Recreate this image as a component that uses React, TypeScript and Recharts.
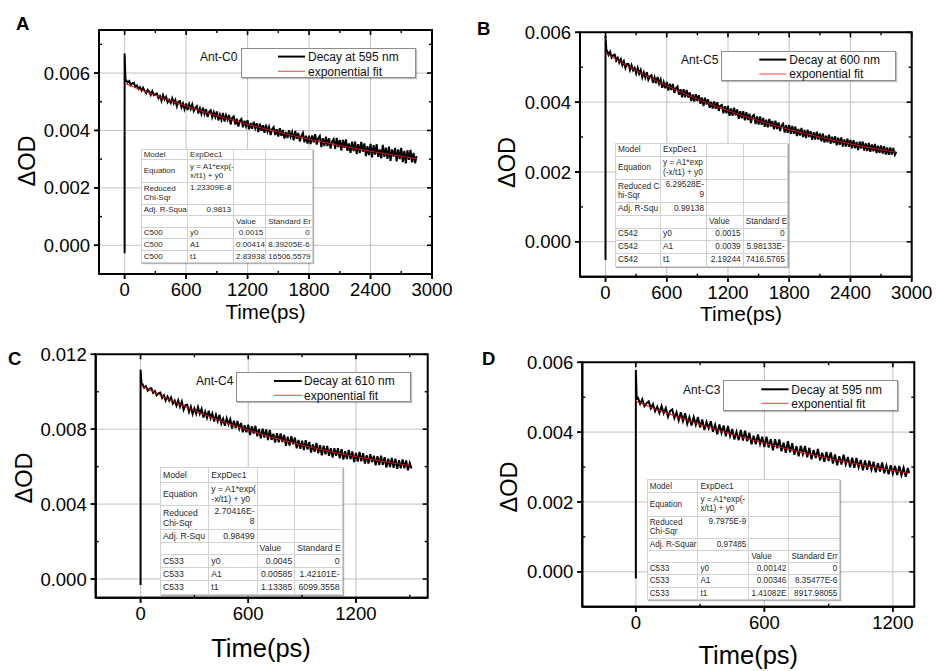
import React from 'react';
import { ComposedChart, Line, XAxis, YAxis, CartesianGrid, Legend, ReferenceArea, ReferenceLine } from 'recharts';

const FONT = '"Liberation Sans", Arial, Helvetica, sans-serif';

// ---------- Panels A and B share one time grid (ps) ----------
const timeAB = [0, 0, 0, 8,
  15, 30, 45, 60, 75, 90, 105, 120, 135, 150, 165, 180, 195, 210, 225, 240, 255, 270, 285, 300,
  315, 330, 345, 360, 375, 390, 405, 420, 435, 450, 465, 480, 495, 510, 525, 540, 555, 570, 585, 600,
  615, 630, 645, 660, 675, 690, 705, 720, 735, 750, 765, 780, 795, 810, 825, 840, 855, 870, 885, 900,
  915, 930, 945, 960, 975, 990, 1005, 1020, 1035, 1050, 1065, 1080, 1095, 1110, 1125, 1140, 1155, 1170, 1185, 1200,
  1215, 1230, 1245, 1260, 1275, 1290, 1305, 1320, 1335, 1350, 1365, 1380, 1395, 1410, 1425, 1440, 1455, 1470, 1485, 1500,
  1515, 1530, 1545, 1560, 1575, 1590, 1605, 1620, 1635, 1650, 1665, 1680, 1695, 1710, 1725, 1740, 1755, 1770, 1785, 1800,
  1815, 1830, 1845, 1860, 1875, 1890, 1905, 1920, 1935, 1950, 1965, 1980, 1995, 2010, 2025, 2040, 2055, 2070, 2085, 2100,
  2115, 2130, 2145, 2160, 2175, 2190, 2205, 2220, 2235, 2250, 2265, 2280, 2295, 2310, 2325, 2340, 2355, 2370, 2385, 2400,
  2415, 2430, 2445, 2460, 2475, 2490, 2505, 2520, 2535, 2550, 2565, 2580, 2595, 2610, 2625, 2640, 2655, 2670, 2685, 2700,
  2715, 2730, 2745, 2760, 2775, 2790, 2805, 2820, 2835, 2850];

// Panel A: Ant-C0, decay at 595 nm (ΔOD)
const decayA = [0, -0.00028, 0.00668, 0.00578,
  0.00575, 0.00567, 0.00572, 0.00558, 0.00564, 0.00566, 0.00552, 0.00557, 0.00545, 0.00551,
  0.00539, 0.00549, 0.00538, 0.0053, 0.00542, 0.00536, 0.00524, 0.00537, 0.00523, 0.00527,
  0.00529, 0.00512, 0.0052, 0.00503, 0.00523, 0.00508, 0.00517, 0.00498, 0.00507, 0.00496,
  0.00512, 0.00495, 0.00506, 0.00484, 0.005, 0.00502, 0.00481, 0.00494, 0.00474, 0.00494,
  0.00471, 0.00492, 0.00475, 0.00491, 0.00468, 0.00479, 0.00485, 0.00459, 0.00477, 0.00458,
  0.00479, 0.00457, 0.00474, 0.00447, 0.00464, 0.0047, 0.00446, 0.00464, 0.00447, 0.00466,
  0.00435, 0.00455, 0.00437, 0.00461, 0.00431, 0.00453, 0.00437, 0.00454, 0.00421, 0.00444,
  0.00449, 0.00421, 0.00441, 0.00414, 0.00434, 0.0044, 0.00411, 0.00434, 0.00415, 0.00436,
  0.00404, 0.00426, 0.00406, 0.0043, 0.00408, 0.00425, 0.00394, 0.00424, 0.00399, 0.00418,
  0.00392, 0.0042, 0.00396, 0.00412, 0.00384, 0.00405, 0.00412, 0.00384, 0.00404, 0.00379,
  0.00408, 0.00381, 0.00402, 0.00372, 0.00395, 0.00374, 0.00401, 0.00378, 0.00394, 0.00366,
  0.00398, 0.00371, 0.00391, 0.00362, 0.0038, 0.00391, 0.00359, 0.00382, 0.00354, 0.00382,
  0.00353, 0.00383, 0.00359, 0.00387, 0.00351, 0.00373, 0.00381, 0.00342, 0.00373, 0.00346,
  0.00378, 0.00346, 0.00373, 0.00337, 0.00362, 0.0037, 0.00336, 0.00374, 0.00342, 0.00367,
  0.0033, 0.00367, 0.0034, 0.00369, 0.00329, 0.00355, 0.00322, 0.00361, 0.00328, 0.00361,
  0.00318, 0.00352, 0.00321, 0.0036, 0.00326, 0.00355, 0.00311, 0.00345, 0.00314, 0.00353,
  0.00306, 0.00349, 0.00316, 0.00352, 0.00308, 0.00334, 0.00303, 0.0035, 0.00308, 0.0034,
  0.00301, 0.00344, 0.00294, 0.00334, 0.00309, 0.00339, 0.00292, 0.00334, 0.003, 0.00339,
  0.0029, 0.00329, 0.00285, 0.00331, 0.00298, 0.00332, 0.00289, 0.00322, 0.00286, 0.00311];

const fitTimeAB = [0, 150, 300, 450, 600, 750, 900, 1050, 1200, 1350, 1500, 1650, 1800, 1950, 2100, 2250, 2400, 2550, 2700, 2850];
const fitA = [0.00564, 0.005427, 0.005225, 0.005033, 0.004851, 0.004679, 0.004515, 0.00436, 0.004213, 0.004073, 0.003941, 0.003815, 0.003696, 0.003583, 0.003476, 0.003374, 0.003278, 0.003186, 0.0031, 0.003017];

// Panel B: Ant-C5, decay at 600 nm (ΔOD)
const decayB = [0, -0.00052, 0.0059, 0.0055,
  0.00548, 0.00535, 0.00544, 0.00528, 0.00534, 0.00536, 0.00519, 0.00527, 0.00513, 0.00523,
  0.00506, 0.00517, 0.00498, 0.00509, 0.00509, 0.00492, 0.00506, 0.00491, 0.00498, 0.00482,
  0.00498, 0.00481, 0.00492, 0.00471, 0.00485, 0.0047, 0.00486, 0.00464, 0.00474, 0.00477,
  0.00455, 0.00471, 0.00454, 0.00472, 0.00453, 0.00465, 0.00441, 0.00457, 0.0044, 0.00458,
  0.00433, 0.00453, 0.00435, 0.00452, 0.00426, 0.0044, 0.00445, 0.00421, 0.00437, 0.00414,
  0.00437, 0.00414, 0.00435, 0.00413, 0.00428, 0.00403, 0.00422, 0.00402, 0.00423, 0.00403,
  0.0042, 0.00395, 0.00413, 0.00389, 0.00413, 0.00393, 0.00408, 0.00384, 0.00401, 0.00382,
  0.00402, 0.00381, 0.004, 0.00375, 0.0039, 0.00392, 0.00368, 0.00388, 0.00368, 0.00389,
  0.00361, 0.00382, 0.00361, 0.00384, 0.00362, 0.00379, 0.00352, 0.00374, 0.00354, 0.00374,
  0.00348, 0.00371, 0.00349, 0.00367, 0.0034, 0.0036, 0.00363, 0.00337, 0.00359, 0.00336,
  0.00359, 0.00335, 0.00355, 0.00329, 0.0035, 0.00328, 0.00352, 0.0033, 0.00346, 0.00322,
  0.00347, 0.00323, 0.00342, 0.00317, 0.00333, 0.00338, 0.00313, 0.00334, 0.00312, 0.00335,
  0.00309, 0.00332, 0.00309, 0.0033, 0.00303, 0.00323, 0.00304, 0.00326, 0.003, 0.0032,
  0.00297, 0.00321, 0.003, 0.00317, 0.00292, 0.00314, 0.00293, 0.00315, 0.00293, 0.0031,
  0.00288, 0.0031, 0.00284, 0.00304, 0.00285, 0.00307, 0.00281, 0.00301, 0.00283, 0.00302,
  0.00276, 0.00298, 0.00278, 0.00299, 0.00273, 0.00293, 0.00273, 0.00295, 0.00272, 0.00292,
  0.00268, 0.00291, 0.00268, 0.00286, 0.00263, 0.00287, 0.00267, 0.00287, 0.00261, 0.00282,
  0.0026, 0.00283, 0.00258, 0.00279, 0.00259, 0.0028, 0.00254, 0.00275, 0.00255, 0.00276,
  0.00253, 0.00274, 0.0025, 0.0027, 0.00249, 0.0027, 0.0025, 0.00269, 0.00249, 0.00258];
const fitB = [0.0054, 0.005142, 0.004901, 0.004676, 0.004466, 0.00427, 0.004087, 0.003916, 0.003756, 0.003607, 0.003468, 0.003337, 0.003216, 0.003103, 0.002997, 0.002898, 0.002805, 0.002719, 0.002638, 0.002563];

// Panel C: Ant-C4, decay at 610 nm (ΔOD)
const timeC = [0, 0, 0, 5,
  10, 20, 30, 40, 50, 60, 70, 80, 90, 100, 110, 120, 130, 140, 150, 160, 170, 180, 190, 200,
  210, 220, 230, 240, 250, 260, 270, 280, 290, 300, 310, 320, 330, 340, 350, 360, 370, 380, 390, 400,
  410, 420, 430, 440, 450, 460, 470, 480, 490, 500, 510, 520, 530, 540, 550, 560, 570, 580, 590, 600,
  610, 620, 630, 640, 650, 660, 670, 680, 690, 700, 710, 720, 730, 740, 750, 760, 770, 780, 790, 800,
  810, 820, 830, 840, 850, 860, 870, 880, 890, 900, 910, 920, 930, 940, 950, 960, 970, 980, 990, 1000,
  1010, 1020, 1030, 1040, 1050, 1060, 1070, 1080, 1090, 1100, 1110, 1120, 1130, 1140, 1150, 1160, 1170, 1180, 1190, 1200,
  1210, 1220, 1230, 1240, 1250, 1260, 1270, 1280, 1290, 1300, 1310, 1320, 1330, 1340, 1350, 1360, 1370, 1380, 1390, 1400,
  1410, 1420, 1430, 1440, 1450, 1460, 1470, 1480, 1490, 1500, 1510];
const decayC = [0, -0.00032, 0.01118, 0.01046,
  0.01042, 0.01021, 0.0103, 0.01006, 0.01017, 0.01019, 0.00994, 0.01004, 0.00981, 0.00991,
  0.00995, 0.00967, 0.00981, 0.00953, 0.00975, 0.00952, 0.0097, 0.00937, 0.00953, 0.00926,
  0.00954, 0.0092, 0.00948, 0.00904, 0.00929, 0.00931, 0.00892, 0.00921, 0.00881, 0.00911,
  0.00882, 0.00918, 0.00883, 0.00909, 0.00862, 0.00893, 0.00861, 0.00898, 0.00858, 0.00884,
  0.00841, 0.00877, 0.00842, 0.00877, 0.0083, 0.00855, 0.00818, 0.00858, 0.00826, 0.00853,
  0.00804, 0.00845, 0.00806, 0.00844, 0.00803, 0.00833, 0.00784, 0.00821, 0.00783, 0.00824,
  0.00769, 0.00816, 0.00777, 0.00818, 0.00762, 0.00801, 0.00751, 0.00803, 0.00756, 0.00799,
  0.00742, 0.00796, 0.00743, 0.00776, 0.00728, 0.00779, 0.0073, 0.00777, 0.00732, 0.00769,
  0.00711, 0.0076, 0.00712, 0.00763, 0.00719, 0.00755, 0.00698, 0.00742, 0.00695, 0.00739,
  0.00688, 0.00741, 0.00692, 0.00732, 0.00675, 0.00719, 0.00679, 0.00727, 0.00671, 0.00715,
  0.00661, 0.00712, 0.00666, 0.00711, 0.00658, 0.00699, 0.00648, 0.00698, 0.00658, 0.00699,
  0.00644, 0.00693, 0.00638, 0.00682, 0.0064, 0.00689, 0.0064, 0.00681, 0.00625, 0.00673,
  0.00627, 0.00678, 0.00628, 0.00672, 0.00616, 0.00661, 0.00616, 0.00666, 0.00624, 0.00658,
  0.00607, 0.00656, 0.00609, 0.00658, 0.0061, 0.0065, 0.00595, 0.00643, 0.00598, 0.00646,
  0.00594, 0.00643, 0.00588, 0.00634, 0.00591, 0.00639, 0.00591, 0.00633, 0.0058, 0.0062,
  0.0059];
const fitTimeC = [0, 100, 200, 300, 400, 500, 600, 700, 800, 900, 1000, 1100, 1200, 1300, 1400, 1500];
const fitC = [0.01035, 0.009856, 0.009404, 0.00899, 0.008611, 0.008264, 0.007946, 0.007655, 0.007389, 0.007145, 0.006922, 0.006717, 0.00653, 0.006359, 0.006202, 0.006058];

// Panel D: Ant-C3, decay at 595 nm (ΔOD)
const timeD = [0, 0, 0, 4,
  10, 20, 30, 40, 50, 60, 70, 80, 90, 100, 110, 120, 130, 140, 150, 160, 170, 180, 190, 200,
  210, 220, 230, 240, 250, 260, 270, 280, 290, 300, 310, 320, 330, 340, 350, 360, 370, 380, 390, 400,
  410, 420, 430, 440, 450, 460, 470, 480, 490, 500, 510, 520, 530, 540, 550, 560, 570, 580, 590, 600,
  610, 620, 630, 640, 650, 660, 670, 680, 690, 700, 710, 720, 730, 740, 750, 760, 770, 780, 790, 800,
  810, 820, 830, 840, 850, 860, 870, 880, 890, 900, 910, 920, 930, 940, 950, 960, 970, 980, 990, 1000,
  1010, 1020, 1030, 1040, 1050, 1060, 1070, 1080, 1090, 1100, 1110, 1120, 1130, 1140, 1150, 1160, 1170, 1180, 1190, 1200,
  1210, 1220, 1230, 1240, 1250, 1260, 1270, 1276];
const decayD = [0.0002, -0.00019, 0.00578, 0.00495,
  0.00498, 0.00481, 0.00494, 0.00474, 0.00483, 0.00488, 0.00468, 0.0048, 0.0046, 0.00473,
  0.00455, 0.00475, 0.00454, 0.00469, 0.00444, 0.00461, 0.00465, 0.0044, 0.00457, 0.00434,
  0.00457, 0.00432, 0.00454, 0.00424, 0.00443, 0.00419, 0.00443, 0.00421, 0.00443, 0.00413,
  0.00436, 0.00406, 0.00429, 0.00411, 0.00431, 0.00401, 0.00421, 0.00394, 0.00422, 0.00398,
  0.00419, 0.00388, 0.00418, 0.00389, 0.00409, 0.00379, 0.00401, 0.00377, 0.00406, 0.00376,
  0.00404, 0.00374, 0.00398, 0.00365, 0.0039, 0.00365, 0.00393, 0.00366, 0.00387, 0.00357,
  0.00387, 0.00356, 0.0038, 0.00348, 0.0038, 0.00354, 0.00379, 0.00345, 0.0037, 0.00341,
  0.00374, 0.00342, 0.00368, 0.00335, 0.0036, 0.00331, 0.00361, 0.00337, 0.0036, 0.00328,
  0.00355, 0.00322, 0.00349, 0.00326, 0.00352, 0.00319, 0.00341, 0.00315, 0.00343, 0.00317,
  0.00342, 0.0031, 0.00336, 0.00305, 0.00331, 0.00307, 0.00335, 0.00308, 0.00329, 0.00299,
  0.00327, 0.00298, 0.00326, 0.00299, 0.0032, 0.00291, 0.00319, 0.00292, 0.00318, 0.00293,
  0.00315, 0.00285, 0.00311, 0.00287, 0.00313, 0.00282, 0.00304, 0.00279, 0.00305, 0.00281,
  0.00303, 0.00277, 0.00303, 0.00277, 0.00298, 0.00272, 0.00297, 0.00283];
const fitTimeD = [0, 100, 200, 300, 400, 500, 600, 700, 800, 900, 1000, 1100, 1200, 1275];
const fitD = [0.00488, 0.004643, 0.004423, 0.004217, 0.004026, 0.003848, 0.003681, 0.003527, 0.003383, 0.003248, 0.003123, 0.003007, 0.002898, 0.002821];

// ---------- Axis ticks ----------
const xMajorLong = [0, 600, 1200, 1800, 2400, 3000];
const xMinorLong = [300, 900, 1500, 2100, 2700];
const xMajorC = [0, 600, 1200];
const xMinorC = [300, 900, 1500];
const xMajorD = [0, 600, 1200];
const xMinorD = [300, 900];
const yMajorSmall = [0, 0.002, 0.004, 0.006];
const yMinorA = [0.001, 0.003, 0.005, 0.007];
const yMinorSmall = [0.001, 0.003, 0.005];
const yMajorC = [0, 0.004, 0.008, 0.012];
const yMinorC = [0.002, 0.006, 0.01];

// ---------- Fit tables ----------
const tableA = [
  ['Model', 'ExpDec1', '', ''],
  ['Equation', 'y = A1*exp(-\nx/t1) + y0', '', ''],
  ['Reduced\nChi-Sqr', '1.23309E-8', '', ''],
  ['Adj. R-Squa', '0.9813', '', ''],
  ['', '', 'Value', 'Standard Er'],
  ['C500', 'y0', '0.0015', '0'],
  ['C500', 'A1', '0.00414', '8.39205E-6'],
  ['C500', 't1', '2.83938', '16506.5579'],
];
const tableB = [
  ['Model', 'ExpDec1', '', ''],
  ['Equation', 'y = A1*exp\n(-x/t1) + y0', '', ''],
  ['Reduced C\nhi-Sqr', '6.29528E-\n9', '', ''],
  ['Adj. R-Squ', '0.99138', '', ''],
  ['', '', 'Value', 'Standard E'],
  ['C542', 'y0', '0.0015', '0'],
  ['C542', 'A1', '0.0039', '5.98133E-'],
  ['C542', 't1', '2.19244', '7416.5765'],
];
const tableC = [
  ['Model', 'ExpDec1', '', ''],
  ['Equation', 'y = A1*exp(\n-x/t1) + y0', '', ''],
  ['Reduced\nChi-Sqr', '2.70416E-\n8', '', ''],
  ['Adj. R-Squ', '0.98499', '', ''],
  ['', '', 'Value', 'Standard E'],
  ['C533', 'y0', '0.0045', '0'],
  ['C533', 'A1', '0.00585', '1.42101E-'],
  ['C533', 't1', '1.13385', '6099.3558'],
];
const tableD = [
  ['Model', 'ExpDec1', '', ''],
  ['Equation', 'y = A1*exp(-\nx/t1) + y0', '', ''],
  ['Reduced\nChi-Sqr', '9.7975E-9', '', ''],
  ['Adj. R-Squar', '0.97485', '', ''],
  ['', '', 'Value', 'Standard Err'],
  ['C533', 'y0', '0.00142', '0'],
  ['C533', 'A1', '0.00346', '8.35477E-6'],
  ['C533', 't1', '1.41082E', '8917.98055'],
];

type Frame = { l: number; r: number; t: number; b: number };
type Panel = {
  key: string;
  letter: string;
  letterPos: [number, number];
  frame: Frame;
  xDomain: [number, number];
  xMajor: number[];
  xMinor: number[];
  yDomain: [number, number];
  yMajor: number[];
  yMinor: number[];
  time: number[];
  decay: number[];
  fitTime: number[];
  fit: number[];
  xTitle: { x: number; y: number; size: number };
  yTitle: { x: number; y: number };
  legend: {
    sample: string; label: string; antX: number; antCy: number;
    boxL: number; boxR: number; boxT: number; boxB: number;
    row1: number; row2: number; lineX1: number; lineX2: number; textX: number;
  };
  table: { rows: string[][]; x: number; y: number; cols: number[]; rowsH: number[]; font: number };
};

const panels: Panel[] = [
  {
    key: 'A', letter: 'A', letterPos: [16, 30],
    frame: { l: 99, r: 432, t: 30, b: 274 },
    xDomain: [-250, 3000], xMajor: xMajorLong, xMinor: xMinorLong,
    yDomain: [-0.001, 0.0075], yMajor: yMajorSmall, yMinor: yMinorA,
    time: timeAB, decay: decayA, fitTime: fitTimeAB, fit: fitA,
    xTitle: { x: 265.5, y: 319, size: 20.5 }, yTitle: { x: 35, y: 161 },
    legend: { sample: 'Ant-C0', label: 'Decay at 595 nm', antX: 200, antCy: 56, boxL: 240.7, boxR: 416, boxT: 47.7, boxB: 78.3, row1: 56.3, row2: 71, lineX1: 278, lineX2: 305, textX: 308 },
    table: { rows: tableA, x: 140.7, y: 149, cols: [46.3, 46, 32.3, 46.3], rowsH: [10.3, 22.3, 22.3, 11, 11.7, 11.7, 11.7, 12.3], font: 8 },
  },
  {
    key: 'B', letter: 'B', letterPos: [477, 35],
    frame: { l: 580, r: 911.7, t: 32.3, b: 276.7 },
    xDomain: [-250, 3000], xMajor: xMajorLong, xMinor: xMinorLong,
    yDomain: [-0.001, 0.006], yMajor: yMajorSmall, yMinor: yMinorSmall,
    time: timeAB, decay: decayB, fitTime: fitTimeAB, fit: fitB,
    xTitle: { x: 741, y: 321, size: 21 }, yTitle: { x: 515.4, y: 162.5 },
    legend: { sample: 'Ant-C5', label: 'Decay at 600 nm', antX: 680.7, antCy: 59.3, boxL: 720.7, boxR: 896, boxT: 50.7, boxB: 80.7, row1: 59.3, row2: 73.7, lineX1: 759, lineX2: 786, textX: 789 },
    table: { rows: tableB, x: 615, y: 142.7, cols: [45, 46, 36.7, 44], rowsH: [13.3, 23.3, 23, 12.7, 12.7, 12.3, 12.7, 13], font: 8.3 },
  },
  {
    key: 'C', letter: 'C', letterPos: [8, 365],
    frame: { l: 95.7, r: 427.7, t: 354.3, b: 597.7 },
    xDomain: [-250, 1600], xMajor: xMajorC, xMinor: xMinorC,
    yDomain: [-0.001, 0.012], yMajor: yMajorC, yMinor: yMinorC,
    time: timeC, decay: decayC, fitTime: fitTimeC, fit: fitC,
    xTitle: { x: 261, y: 657, size: 25.5 }, yTitle: { x: 32.4, y: 478 },
    legend: { sample: 'Ant-C4', label: 'Decay at 610 nm', antX: 196, antCy: 380, boxL: 236, boxR: 411, boxT: 371.7, boxB: 402, row1: 380.7, row2: 395, lineX1: 274, lineX2: 301.7, textX: 304 },
    table: { rows: tableC, x: 160, y: 466.7, cols: [48.3, 48.3, 37.7, 47.3], rowsH: [15, 23.3, 24.3, 12.3, 12.3, 13.3, 12.7, 14], font: 8.7 },
  },
  {
    key: 'D', letter: 'D', letterPos: [482, 365],
    frame: { l: 582.3, r: 914.3, t: 362.3, b: 606.7 },
    xDomain: [-250, 1300], xMajor: xMajorD, xMinor: xMinorD,
    yDomain: [-0.001, 0.006], yMajor: yMajorSmall, yMinor: yMinorSmall,
    time: timeD, decay: decayD, fitTime: fitTimeD, fit: fitD,
    xTitle: { x: 748.3, y: 664, size: 25.5 }, yTitle: { x: 517.4, y: 487 },
    legend: { sample: 'Ant-C3', label: 'Decay at 595 nm', antX: 682.7, antCy: 389.3, boxL: 723.3, boxR: 898.3, boxT: 380, boxB: 410.7, row1: 389.3, row2: 403.3, lineX1: 761, lineX2: 788.3, textX: 791 },
    table: { rows: tableD, x: 646.7, y: 479.3, cols: [50.7, 51, 40, 51], rowsH: [13, 23.3, 22.7, 11.7, 11.7, 12.7, 12.3, 12.7], font: 8.2 },
  },
];

const W = 936;
const H = 671;
const Y_AXIS_W = 60;
const X_AXIS_H = 40;
const MAJOR_TICK_PX = 5;
const MINOR_TICK_PX = 3;

function LegendBox({ lg }: { lg: Panel['legend'] }) {
  const w = lg.boxR - lg.antX;
  const h = lg.boxB - lg.boxT;
  const ox = lg.antX;
  const oy = lg.boxT;
  return (
    <div style={{ position: 'relative', width: w, height: h, fontFamily: FONT }}>
      <div
        style={{
          position: 'absolute', left: lg.boxL - ox, top: 0, width: lg.boxR - lg.boxL, height: h,
          boxSizing: 'border-box', border: '1px solid #8c8c8c', background: '#fff',
          boxShadow: '1px 1px 1px rgba(0,0,0,0.25)',
        }}
      />
      <svg width={w} height={h} style={{ position: 'absolute', left: 0, top: 0, overflow: 'visible' }}>
        <text x={0} y={lg.antCy - oy + 4.3} fontSize={12} fill="#111" fontFamily={FONT}>{lg.sample}</text>
        <line x1={lg.lineX1 - ox} x2={lg.lineX2 - ox} y1={lg.row1 - oy} y2={lg.row1 - oy} stroke="#000" strokeWidth={2} />
        <line x1={lg.lineX1 - ox} x2={lg.lineX2 - ox} y1={lg.row2 - oy} y2={lg.row2 - oy} stroke="#ff4040" strokeWidth={1} />
        <text x={lg.textX - ox} y={lg.row1 - oy + 4.3} fontSize={12} fill="#111" fontFamily={FONT}>{lg.label}</text>
        <text x={lg.textX - ox} y={lg.row2 - oy + 4.3} fontSize={12} fill="#111" fontFamily={FONT}>exponential fit</text>
      </svg>
    </div>
  );
}

function cellAlign(r: number, c: number): 'left' | 'right' {
  if (c === 0) return 'left';
  if (r <= 1) return 'left';
  if (r === 4) return 'left';
  if (r >= 5 && c === 1) return 'left';
  return 'right';
}

function FitTable({ t }: { t: Panel['table'] }) {
  const total = t.cols.reduce((s, v) => s + v, 0);
  return (
    <table
      style={{
        position: 'absolute', left: t.x, top: t.y, width: total, borderCollapse: 'collapse',
        tableLayout: 'fixed', fontFamily: FONT, fontSize: t.font, color: '#2a2a2a', background: '#fff',
        border: '1px solid #8a8a8a', boxShadow: '1px 1px 1px rgba(0,0,0,0.3)',
      }}
    >
      <colgroup>
        {t.cols.map((w, i) => <col key={i} style={{ width: w }} />)}
      </colgroup>
      <tbody>
        {t.rows.map((row, r) => (
          <tr key={r} style={{ height: t.rowsH[r] }}>
            {row.map((cell, c) => (
              <td
                key={c}
                style={{
                  border: '1px solid #d2d2d2', padding: '0 2px', height: t.rowsH[r] - 1,
                  textAlign: cellAlign(r, c), verticalAlign: r === 2 && c === 1 ? 'top' : 'middle',
                  overflow: 'hidden', whiteSpace: 'nowrap', lineHeight: `${t.font + 1.4}px`,
                }}
              >
                {cell.split('\n').map((ln, k) => (
                  <React.Fragment key={k}>
                    {k > 0 && <br />}
                    {ln}
                  </React.Fragment>
                ))}
              </td>
            ))}
          </tr>
        ))}
      </tbody>
    </table>
  );
}

type Seg = [{ x: number; y: number }, { x: number; y: number }];

// tick marks expressed in data units via the panel's own scale (px -> data)
function tickSegments(p: Panel): { seg: Seg; w: number }[] {
  const [x0, x1] = p.xDomain;
  const [y0, y1] = p.yDomain;
  const dx = (x1 - x0) / (p.frame.r - p.frame.l);
  const dy = (y1 - y0) / (p.frame.b - p.frame.t);
  const out: { seg: Seg; w: number }[] = [];
  p.xMajor.forEach((x) => {
    out.push({ seg: [{ x, y: y0 }, { x, y: y0 - MAJOR_TICK_PX * dy }], w: 1.6 });
    out.push({ seg: [{ x, y: y1 }, { x, y: y1 - MAJOR_TICK_PX * dy }], w: 1.6 });
  });
  p.xMinor.forEach((x) => {
    out.push({ seg: [{ x, y: y0 }, { x, y: y0 + MINOR_TICK_PX * dy }], w: 1.4 });
    out.push({ seg: [{ x, y: y1 }, { x, y: y1 - MINOR_TICK_PX * dy }], w: 1.4 });
  });
  p.yMajor.forEach((y) => {
    out.push({ seg: [{ x: x0 - MAJOR_TICK_PX * dx, y }, { x: x0, y }], w: 1.6 });
    out.push({ seg: [{ x: x1 - MAJOR_TICK_PX * dx, y }, { x: x1, y }], w: 1.6 });
  });
  p.yMinor.forEach((y) => {
    out.push({ seg: [{ x: x0, y }, { x: x0 + MINOR_TICK_PX * dx, y }], w: 1.4 });
    out.push({ seg: [{ x: x1 - MINOR_TICK_PX * dx, y }, { x: x1, y }], w: 1.4 });
  });
  return out;
}

function PanelChart({ p }: { p: Panel }) {
  const data = p.time.map((t, i) => ({ t, v: p.decay[i] }));
  const fitData = p.fitTime.map((t, i) => ({ t, f: p.fit[i] }));
  const margin = {
    left: p.frame.l - Y_AXIS_W,
    top: p.frame.t,
    right: W - p.frame.r,
    bottom: H - p.frame.b - X_AXIS_H,
  };
  const tickStyle = { fontSize: 18.5, fill: '#000', fontFamily: FONT, stroke: 'none' };
  const ticks = tickSegments(p);
  return (
    <div style={{ position: 'absolute', left: 0, top: 0, width: W, height: H }}>
      <ComposedChart width={W} height={H} margin={margin}>
        <CartesianGrid xAxisId="x" yAxisId="y" stroke="#c3c3c3" strokeWidth={1} />
        <CartesianGrid xAxisId="x" yAxisId="ym" vertical={false} stroke="#cdcdcd" strokeWidth={1} strokeDasharray="1.5 1.5" />
        <XAxis
          xAxisId="x" dataKey="t" type="number" domain={p.xDomain} allowDataOverflow ticks={p.xMajor} interval={0}
          tick={tickStyle} tickSize={5} tickMargin={4} height={X_AXIS_H}
          stroke="#000" axisLine={{ stroke: '#000', strokeWidth: 2 }} tickLine={{ stroke: '#000', strokeWidth: 1.5 }}
          label={{
            content: () => (
              <text x={p.xTitle.x} y={p.xTitle.y} textAnchor="middle" fontSize={p.xTitle.size} fontFamily={FONT} fill="#000" stroke="none">
                Time(ps)
              </text>
            ),
          }}
        />
        <YAxis
          yAxisId="y" type="number" domain={p.yDomain} allowDataOverflow ticks={p.yMajor} interval={0} width={Y_AXIS_W}
          tick={tickStyle} tickSize={5} tickMargin={4} tickFormatter={(v: number) => v.toFixed(3)}
          stroke="#000" axisLine={{ stroke: '#000', strokeWidth: 2 }} tickLine={{ stroke: '#000', strokeWidth: 1.5 }}
          label={{
            content: () => (
              <text
                x={p.yTitle.x} y={p.yTitle.y} textAnchor="middle" fontSize={23.5} fontFamily={FONT} fill="#000" stroke="none"
                transform={`rotate(-90 ${p.yTitle.x} ${p.yTitle.y})`}
              >
                ΔOD
              </text>
            ),
          }}
        />
        <YAxis
          yAxisId="ym" type="number" domain={p.yDomain} allowDataOverflow ticks={p.yMinor} interval={0} mirror width={0}
          tick={false} axisLine={false} tickLine={false}
        />
        <Line
          xAxisId="x" yAxisId="y" data={data} dataKey="v" name={p.legend.label} type="linear"
          stroke="#000" strokeWidth={2} strokeLinejoin="miter" dot={false} activeDot={false} isAnimationActive={false}
        />
        <Line
          xAxisId="x" yAxisId="y" data={fitData} dataKey="f" name="exponential fit" type="monotone"
          stroke="#e01010" strokeWidth={1} dot={false} activeDot={false} isAnimationActive={false}
        />
        <ReferenceArea
          xAxisId="x" yAxisId="y" x1={p.xDomain[0]} x2={p.xDomain[1]} y1={p.yDomain[0]} y2={p.yDomain[1]}
          fill="none" fillOpacity={0} stroke="#000" strokeWidth={2} strokeOpacity={1} ifOverflow="visible"
        />
        {ticks.map((t, i) => (
          <ReferenceLine
            key={`tk${i}`} xAxisId="x" yAxisId="y" segment={t.seg} stroke="#000" strokeWidth={t.w} ifOverflow="visible"
          />
        ))}
        <Legend
          layout="horizontal" verticalAlign="middle" align="center"
          wrapperStyle={{
            position: 'absolute', left: p.legend.antX, top: p.legend.boxT,
            width: p.legend.boxR - p.legend.antX, height: p.legend.boxB - p.legend.boxT, margin: 0, padding: 0,
          }}
          content={() => <LegendBox lg={p.legend} />}
        />
      </ComposedChart>
    </div>
  );
}

export default function App() {
  return (
    <div style={{ position: 'absolute', left: 0, top: 0, width: W, height: H, background: '#fff', overflow: 'hidden' }}>
      {panels.map((p) => <PanelChart key={p.key} p={p} />)}
      {panels.map((p) => <FitTable key={`t${p.key}`} t={p.table} />)}
      <svg width={W} height={H} style={{ position: 'absolute', left: 0, top: 0, pointerEvents: 'none' }}>
        {panels.map((p) => (
          <text key={`l${p.key}`} x={p.letterPos[0]} y={p.letterPos[1]} fontSize={18.5} fontWeight="bold" fontFamily={FONT} fill="#000">
            {p.letter}
          </text>
        ))}
      </svg>
    </div>
  );
}
